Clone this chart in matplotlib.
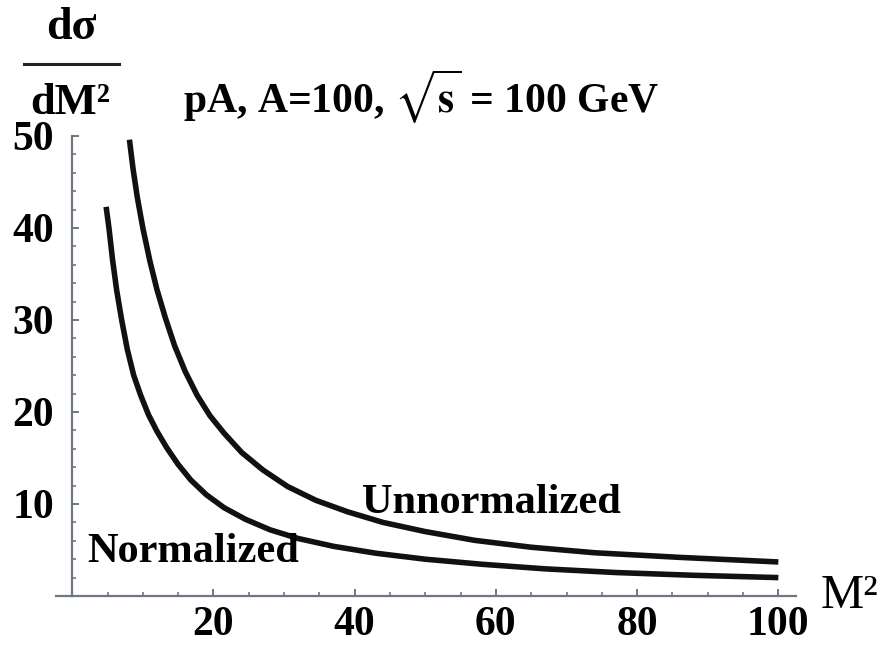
import numpy as np
import matplotlib.pyplot as plt
from matplotlib.lines import Line2D
from matplotlib.ticker import MultipleLocator

plt.rcParams['mathtext.fontset'] = 'stix'

# read-off values of the two cross-section curves
norm_m2 = [4.8, 5.2, 5.7, 6.3, 7.0, 7.8, 8.7, 9.7, 10.8, 12.0, 13.4, 15.0,
           16.8, 19.0, 21.5, 24.5, 28.0, 32.0, 37.0, 43.0, 50.0, 58.0, 67.0,
           77.0, 88.0, 100.0]
norm_xs = [42.3, 40.0, 36.6, 33.2, 30.0, 26.8, 24.0, 21.8, 19.7, 17.9, 16.1,
           14.3, 12.6, 11.0, 9.6, 8.35, 7.2, 6.25, 5.4, 4.65, 4.0, 3.45, 2.95,
           2.55, 2.25, 2.0]

unnorm_m2 = [8.1, 8.6, 9.2, 10.0, 11.0, 12.0, 13.2, 14.5, 16.0, 17.7, 19.5,
             21.5, 24.0, 27.0, 30.5, 34.5, 39.0, 44.0, 50.0, 57.0, 65.0, 74.0,
             86.0, 100.0]
unnorm_xs = [49.6, 46.5, 43.4, 40.0, 36.4, 33.3, 30.2, 27.2, 24.4, 21.8, 19.6,
             17.7, 15.6, 13.7, 11.9, 10.4, 9.15, 8.0, 7.0, 6.05, 5.3, 4.7,
             4.2, 3.7]

xticks = [20, 40, 60, 80, 100]
yticks = [10, 20, 30, 40, 50]

serif = 'Liberation Serif'
axis_col = '#6f7780'

fig = plt.figure(figsize=(8.83, 6.56), dpi=100)
ax = fig.add_axes([56 / 883, 60 / 656, 740 / 883, 460 / 656])

ax.plot(unnorm_m2, unnorm_xs, color='#111111', lw=4.0, solid_capstyle='butt',
        solid_joinstyle='round')
ax.plot(norm_m2, norm_xs, color='#111111', lw=4.0, solid_capstyle='butt',
        solid_joinstyle='round')

ax.set_xlim(-2.3, 102.5)
ax.set_ylim(0, 50)

for s in ('top', 'right'):
    ax.spines[s].set_visible(False)
for s in ('left', 'bottom'):
    ax.spines[s].set_position(('data', 0))
    ax.spines[s].set_color(axis_col)
    ax.spines[s].set_linewidth(1.6)

ax.set_xticks(xticks)
ax.set_yticks(yticks)
ax.xaxis.set_minor_locator(MultipleLocator(5))
ax.yaxis.set_minor_locator(MultipleLocator(2))
ax.tick_params(which='major', direction='in', length=5, width=1.4, color=axis_col)
ax.tick_params(which='minor', direction='in', length=3, width=1.2, color=axis_col)
ax.tick_params(axis='x', pad=7)
ax.tick_params(axis='y', pad=13)
for lab in ax.get_xticklabels() + ax.get_yticklabels():
    lab.set_fontfamily(serif)
    lab.set_fontweight('bold')
    lab.set_fontsize(30)

ax.text(2.1, 3.7, 'Normalized', family=serif, weight='bold', fontsize=30.5,
        ha='left', va='baseline')
ax.text(41.1, 9.0, 'Unnormalized', family=serif, weight='bold', fontsize=30.5,
        ha='left', va='baseline')

# axis labels
fig.text(71 / 883, 1 - 28 / 656, 'd\u03c3', family=serif, weight='bold',
         fontsize=33, ha='center', va='center')
fig.add_artist(Line2D([24 / 883, 119 / 883], [1 - 64 / 656, 1 - 64 / 656],
                      color='#222222', lw=2.2))
fig.text(70 / 883, 1 - 103 / 656, 'dM\u00b2', family=serif, weight='bold',
         fontsize=32, ha='center', va='center')
fig.text(821 / 883, 1 - 608 / 656, 'M\u00b2', family=serif, fontsize=35,
         ha='left', va='baseline')

fig.text(183 / 883, 1 - 113 / 656,
         r'pA, A=100, $\sqrt{\mathbf{s}}$ = 100 GeV',
         family=serif, weight='bold', fontsize=30, ha='left', va='baseline')

fig.savefig('out.png', dpi=100)
